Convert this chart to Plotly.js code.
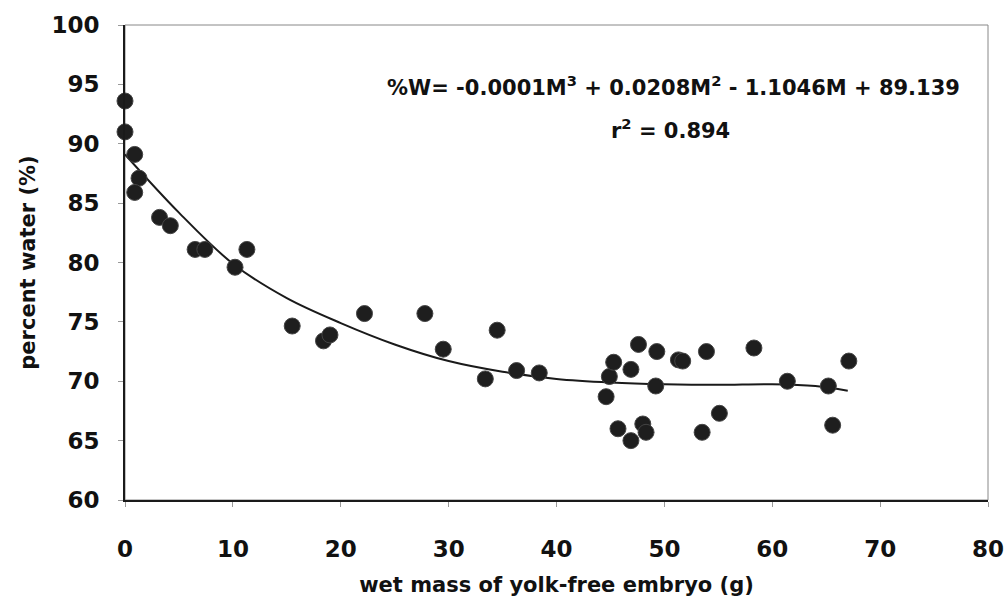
<!DOCTYPE html>
<html>
<head>
<meta charset="utf-8">
<script src="https://cdn.plot.ly/plotly-3.0.1.min.js"></script>
<style>html,body{margin:0;padding:0;background:#fff;}#chart{width:1008px;height:597px;}</style>
</head>
<body>
<div id="chart"></div>
<script>
// Observed data: wet mass of yolk-free embryo (g) vs percent water (%)
const massG = [0, 0, 0.9, 1.3, 0.9, 3.2, 4.2, 6.5, 7.4, 10.2, 11.3,
  15.5, 18.4, 19.0, 22.2, 27.8, 29.5, 33.4, 34.5, 36.3, 38.4,
  44.6, 44.9, 45.3, 45.7, 46.9, 46.9, 47.6, 48.0, 48.3, 49.2, 49.3,
  51.3, 51.7, 53.5, 53.9, 55.1, 58.3, 61.4, 65.2, 65.6, 67.1];
const waterPct = [93.6, 91.0, 89.1, 87.1, 85.9, 83.8, 83.1, 81.1, 81.1, 79.6, 81.1,
  74.65, 73.4, 73.9, 75.7, 75.7, 72.7, 70.2, 74.3, 70.9, 70.7,
  68.7, 70.4, 71.6, 66.0, 65.0, 71.0, 73.1, 66.4, 65.7, 69.6, 72.5,
  71.8, 71.7, 65.7, 72.5, 67.3, 72.8, 70.0, 69.6, 66.3, 71.7];

// Fitted trend curve
const fitX = [0, 5, 10, 15, 20, 25, 30, 35, 40, 45, 50, 55, 60, 64, 67];
const fitY = [89.1, 84.2, 79.9, 77.0, 74.9, 73.1, 71.7, 70.8, 70.2, 69.9, 69.75, 69.7, 69.75, 69.6, 69.2];

const xTicks = [0, 10, 20, 30, 40, 50, 60, 70, 80];
const yTicks = [60, 65, 70, 75, 80, 85, 90, 95, 100];

const equationText = '%W= -0.0001M<sup>3</sup> + 0.0208M<sup>2</sup> - 1.1046M + 89.139';
const r2Text = 'r<sup>2</sup> = 0.894';
const xTitle = 'wet mass of yolk-free embryo (g)';
const yTitle = 'percent water (%)';

const FONT = 'DejaVu Sans, Liberation Sans, Arial, sans-serif';

const traces = [
  {
    x: fitX, y: fitY, type: 'scatter', mode: 'lines',
    line: {color: '#1a1a1a', width: 2, shape: 'spline', smoothing: 1.0},
    hoverinfo: 'skip', showlegend: false
  },
  {
    x: massG, y: waterPct, type: 'scatter', mode: 'markers',
    marker: {color: '#1e1e1e', size: 16, line: {color: '#444', width: 1}},
    cliponaxis: false, showlegend: false
  }
];

const annFont = {family: FONT, size: 21, color: '#111', weight: 'bold'};

const layout = {
  width: 1008, height: 597,
  margin: {l: 125, r: 20, t: 25, b: 97},
  paper_bgcolor: '#ffffff', plot_bgcolor: '#ffffff',
  font: {family: FONT, color: '#111', size: 22},
  xaxis: {
    range: [0, 80], tickvals: xTicks, ticktext: xTicks.map(String),
    showgrid: false, zeroline: false,
    showline: true, linecolor: '#1a1a1a', linewidth: 2,
    ticks: 'outside', ticklen: 5, tickcolor: '#999', tickwidth: 1,
    ticklabelstandoff: 22,
    tickfont: {family: FONT, size: 23, color: '#111', weight: 'bold'},
    title: {text: xTitle, font: {family: FONT, size: 21, color: '#111', weight: 'bold'}, standoff: 18}
  },
  yaxis: {
    range: [60, 100], tickvals: yTicks, ticktext: yTicks.map(String),
    showgrid: false, zeroline: false,
    showline: true, linecolor: '#1a1a1a', linewidth: 2,
    ticks: 'outside', ticklen: 5, tickcolor: '#999', tickwidth: 1,
    ticklabelstandoff: 14,
    tickfont: {family: FONT, size: 23, color: '#111', weight: 'bold'},
    title: {text: yTitle, font: {family: FONT, size: 21, color: '#111', weight: 'bold'}, standoff: 10}
  },
  shapes: [
    {type: 'rect', xref: 'paper', yref: 'paper', x0: 0, x1: 1, y0: 0, y1: 1,
     line: {color: '#888', width: 1}, layer: 'below'}
  ],
  annotations: [
    {text: equationText, xref: 'paper', yref: 'paper', x: 0.636, y: 0.872,
     xanchor: 'center', yanchor: 'middle', showarrow: false, align: 'center', font: annFont},
    {text: r2Text, xref: 'paper', yref: 'paper', x: 0.632, y: 0.782,
     xanchor: 'center', yanchor: 'middle', showarrow: false, align: 'center', font: annFont}
  ]
};

Plotly.newPlot('chart', traces, layout, {displayModeBar: false, staticPlot: true});
</script>
</body>
</html>
